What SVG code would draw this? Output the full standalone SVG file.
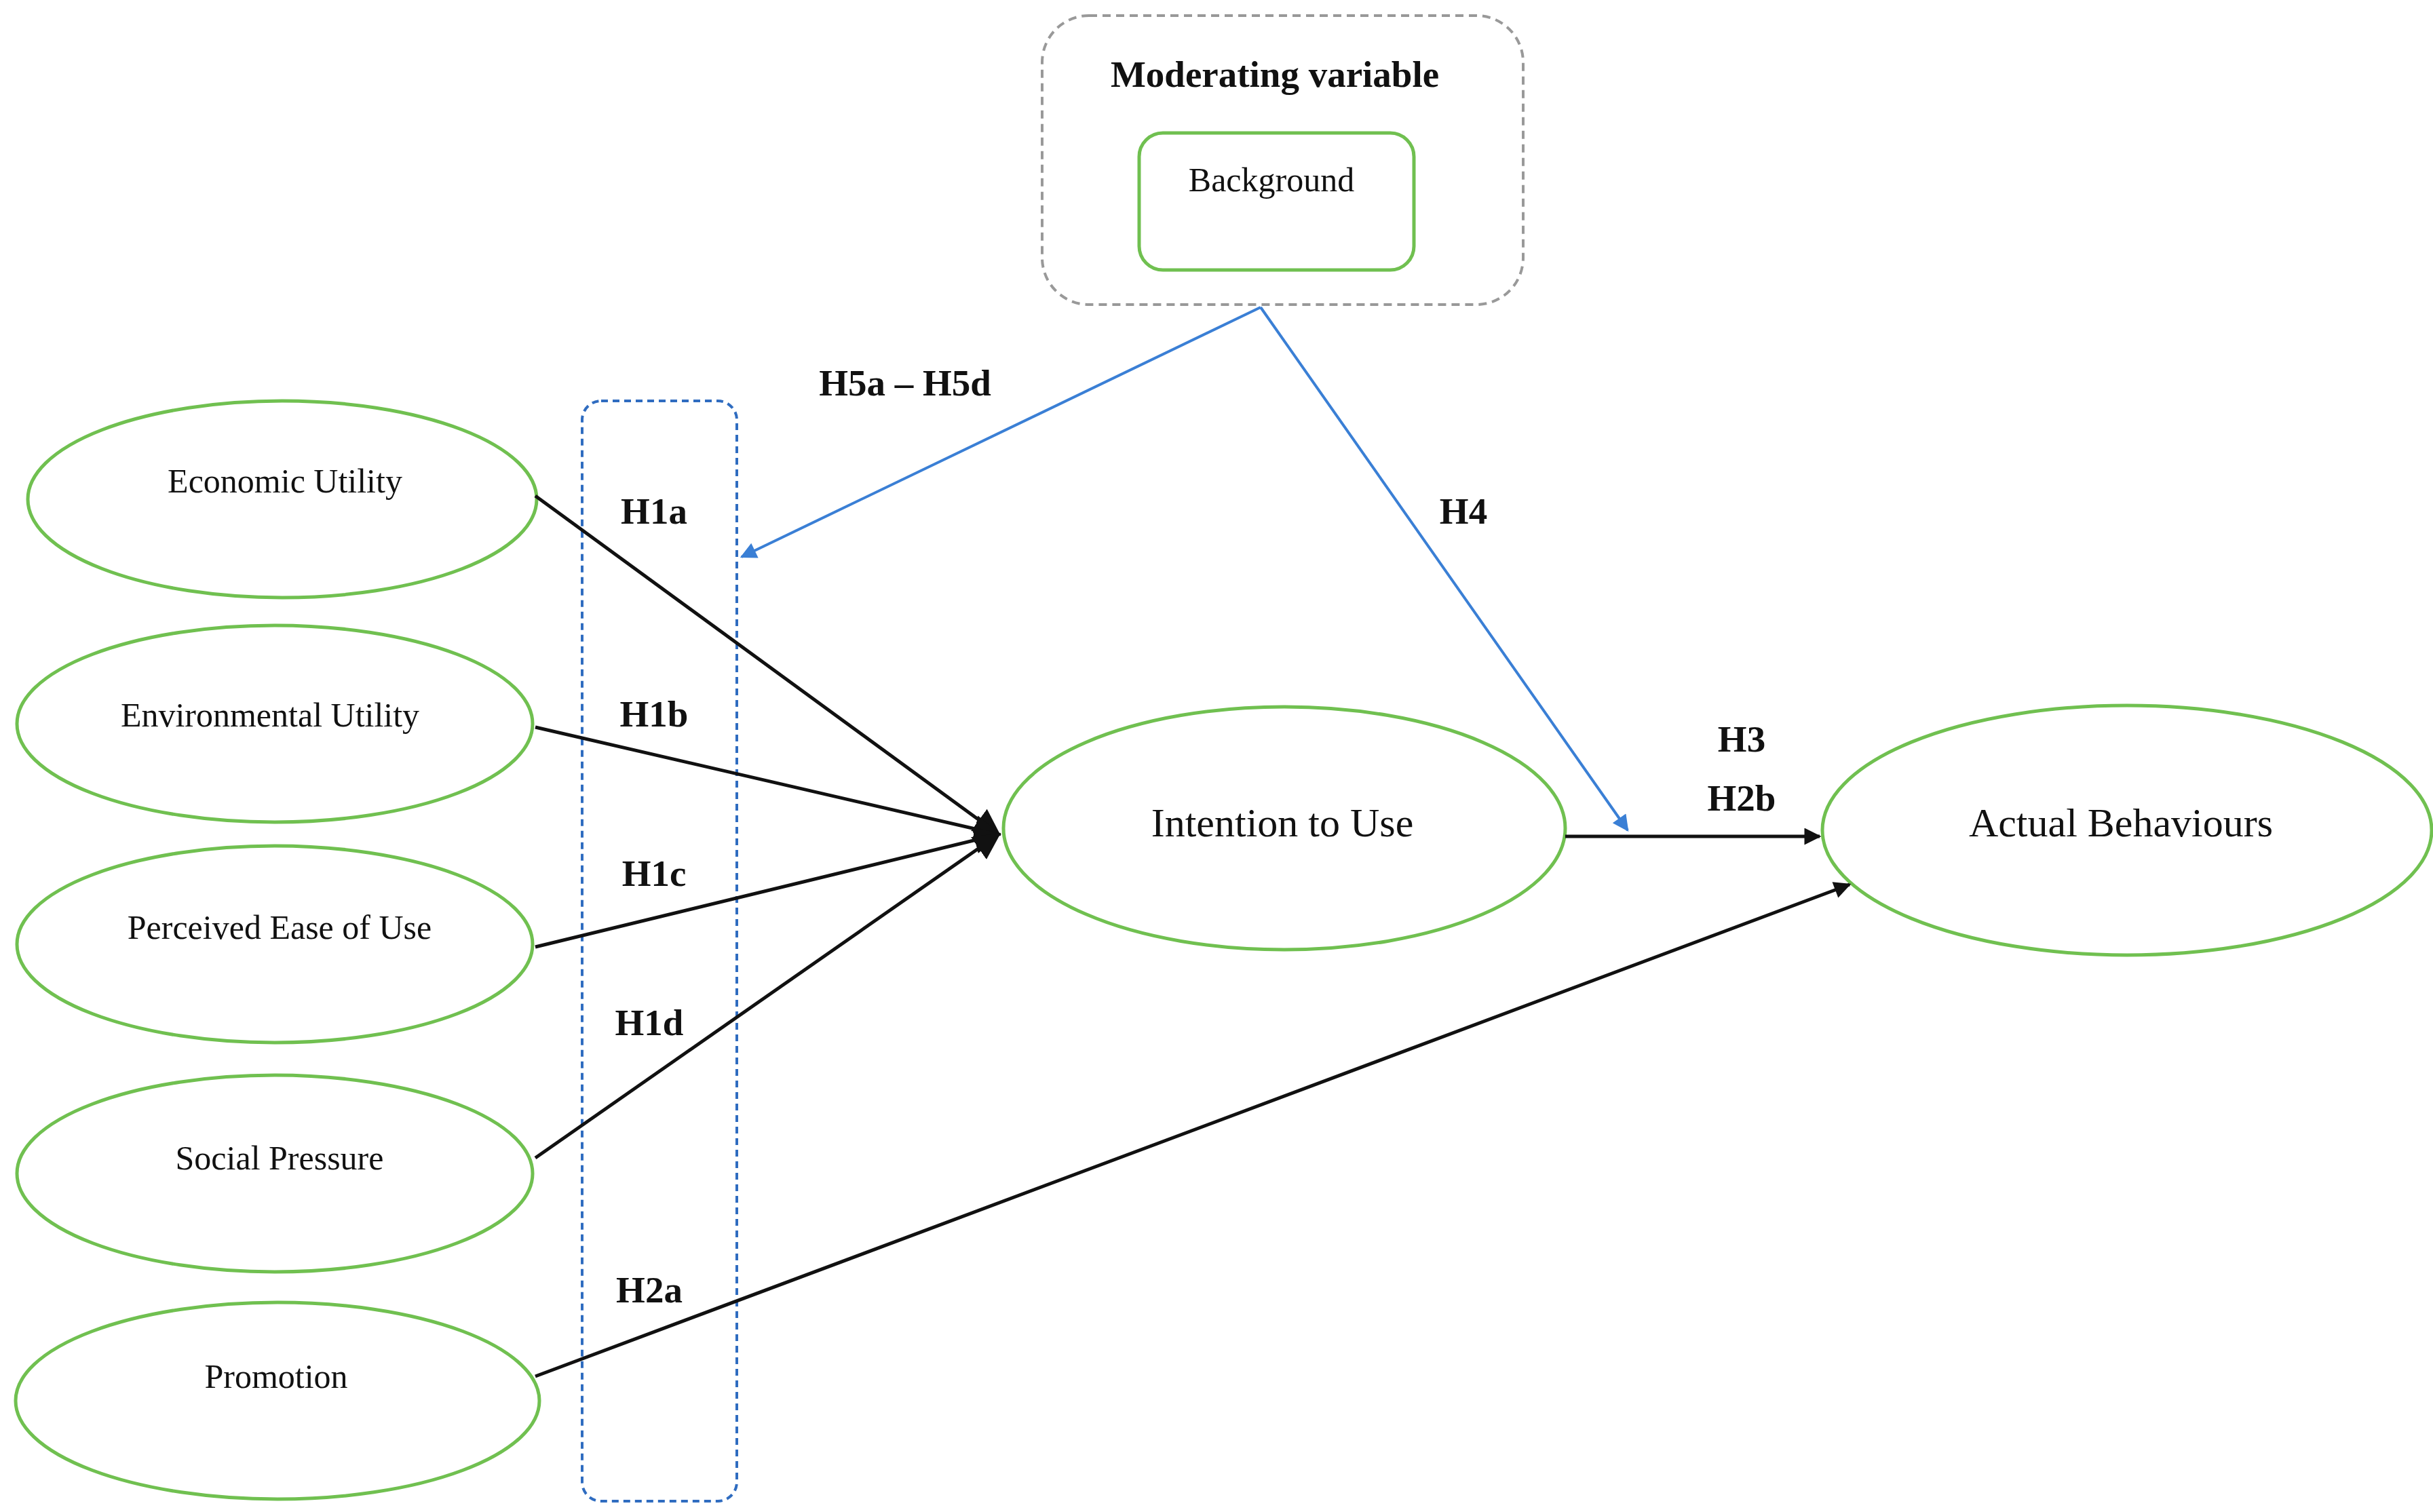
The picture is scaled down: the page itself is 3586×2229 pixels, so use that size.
<svg xmlns="http://www.w3.org/2000/svg" width="3586" height="2229" viewBox="0 0 3586 2229">
<style>
text{font-family:"Liberation Serif",serif;fill:#111;text-anchor:middle;dominant-baseline:middle}
.n{font-size:50px}.h{font-size:55px;font-weight:bold}
.e{fill:#fff;stroke:#70c050;stroke-width:5}
.k{stroke:#111;stroke-width:5;fill:none}
.b{stroke:#3a7fd5;stroke-width:4;fill:none}
</style>
<defs>
<marker id="ak" viewBox="0 0 10 10" refX="9" refY="5" markerWidth="6" markerHeight="5" orient="auto"><path d="M0,0L10,5L0,10z" fill="#111"/></marker>
<marker id="akk" viewBox="0 0 10 10" refX="9" refY="5" markerWidth="8" markerHeight="8" orient="auto"><path d="M0,0L10,5L0,10z" fill="#111"/></marker>
<marker id="ab" viewBox="0 0 10 10" refX="9" refY="5" markerWidth="7" markerHeight="6" orient="auto"><path d="M0,0L10,5L0,10z" fill="#3a7fd5"/></marker>
</defs>
<rect width="3586" height="2229" fill="#fff"/>
<g id="moderator">
<rect x="1536" y="23" width="709" height="426" rx="69" fill="none" stroke="#999" stroke-width="4" stroke-dasharray="12,8"/>
<text x="1879" y="115" class="h">Moderating variable</text>
</g>
<g id="background"><rect x="1679" y="196" width="405" height="202" rx="35" class="e"/><text x="1874" y="271" class="n">Background</text></g>
<g id="hbox"><rect x="858" y="591" width="228" height="1622" rx="28" fill="none" stroke="#2f6cc0" stroke-width="4" stroke-dasharray="10,7"/></g>
<g id="eco"><ellipse cx="416" cy="736" rx="375" ry="145" class="e"/><text x="420" y="715" class="n">Economic Utility</text></g>
<g id="env"><ellipse cx="405" cy="1067" rx="380" ry="145" class="e"/><text x="398" y="1060" class="n">Environmental Utility</text></g>
<g id="peou"><ellipse cx="405" cy="1392" rx="380" ry="145" class="e"/><text x="412" y="1373" class="n">Perceived Ease of Use</text></g>
<g id="social"><ellipse cx="405" cy="1730" rx="380" ry="145" class="e"/><text x="412" y="1713" class="n">Social Pressure</text></g>
<g id="promo"><ellipse cx="409" cy="2065" rx="386" ry="145" class="e"/><text x="407" y="2035" class="n">Promotion</text></g>
<g id="intention"><ellipse cx="1893" cy="1221" rx="414" ry="179" class="e"/><text x="1890" y="1219" style="font-size:60px">Intention to Use</text></g>
<g id="actual"><ellipse cx="3135" cy="1224" rx="449" ry="184" class="e"/><text x="3126" y="1219" style="font-size:60px">Actual Behaviours</text></g>
<g id="connectors">
<line x1="789" y1="731" x2="1472" y2="1230" class="k" marker-end="url(#akk)"/>
<line x1="789" y1="1072" x2="1472" y2="1230" class="k" marker-end="url(#akk)"/>
<line x1="789" y1="1396" x2="1472" y2="1230" class="k" marker-end="url(#akk)"/>
<line x1="789" y1="1707" x2="1472" y2="1230" class="k" marker-end="url(#akk)"/>
<line x1="789" y1="2029" x2="2726" y2="1304" class="k" marker-end="url(#ak)"/>
<line x1="2307" y1="1233" x2="2682" y2="1233" class="k" marker-end="url(#ak)"/>
<line x1="1858" y1="453" x2="1093" y2="821" class="b" marker-end="url(#ab)"/>
<line x1="1858" y1="453" x2="2399" y2="1224" class="b" marker-end="url(#ab)"/>
<text x="964" y="759" class="h">H1a</text>
<text x="964" y="1058" class="h">H1b</text>
<text x="964" y="1293" class="h">H1c</text>
<text x="957" y="1513" class="h">H1d</text>
<text x="957" y="1907" class="h">H2a</text>
<text x="1334" y="570" class="h">H5a – H5d</text>
<text x="2157" y="759" class="h">H4</text>
<text x="2567" y="1095" class="h">H3</text>
<text x="2567" y="1182" class="h">H2b</text>
</g>
</svg>
